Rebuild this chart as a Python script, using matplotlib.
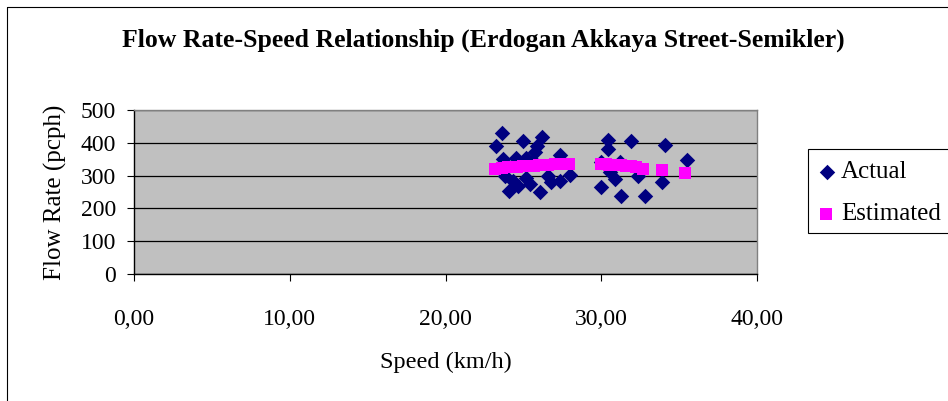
import matplotlib
matplotlib.use("Agg")
import matplotlib.pyplot as plt
from matplotlib.patches import Rectangle
from matplotlib.ticker import FuncFormatter

# Observed flow-speed pairs
actual_speed = [23.62, 23.26, 24.97, 26.19, 25.87, 25.72, 27.33, 23.69, 24.55, 25.20,
                23.80, 24.33, 25.20, 24.10, 24.65, 25.40, 26.05, 26.58, 26.80, 27.33,
                27.97, 25.00, 25.60,
                30.44, 31.88, 34.09, 30.44, 35.48, 30.01, 30.87, 30.55, 32.37, 33.93,
                31.24, 32.80, 29.98, 31.20]
actual_flow = [430, 391, 406, 417, 391, 371, 363, 350, 355, 355,
               299, 284, 294, 253, 268, 273, 250, 299, 279, 284,
               301, 340, 345,
               410, 405, 392, 380, 349, 264, 290, 310, 300, 282,
               239, 239, 340, 341]

# Model estimates
est_speed = [23.2, 23.6, 24.0, 24.3, 24.6, 25.0, 25.3, 25.7, 26.0, 26.3, 26.6, 27.0, 27.4, 27.9,
             30.0, 30.3, 30.5, 30.8, 31.0, 31.3, 31.6, 31.9, 32.2, 32.7, 33.9, 35.4]
est_flow = [321, 323, 325, 326, 327, 328, 329, 330, 331, 332, 333, 334, 335, 335,
            334, 334, 333, 333, 332, 331, 330, 329, 327, 321, 316, 309]

x_ticks = [0, 10, 20, 30, 40]
y_ticks = [0, 100, 200, 300, 400, 500]

W, H = 948, 401
plt.rcParams["font.family"] = ["Liberation Serif", "DejaVu Serif"]
fig = plt.figure(figsize=(W / 100, H / 100), dpi=100)
fig.patch.set_facecolor("white")

# overlay in pixel coordinates for the frame, title and legend
ov = fig.add_axes([0, 0, 1, 1], facecolor="none")
ov.set_xlim(0, W)
ov.set_ylim(H, 0)
ov.axis("off")
ov.add_patch(Rectangle((7, 7), W + 20, H + 20, fill=False, edgecolor="black", linewidth=0.8))

left, right, top, bottom = 134, 757, 110, 274
ax = fig.add_axes([left / W, 1 - bottom / H, (right - left) / W, (bottom - top) / H])
ax.set_facecolor("#C0C0C0")
ax.set_xlim(0, 40)
ax.set_ylim(0, 500)
ax.set_xticks(x_ticks)
ax.set_yticks(y_ticks)
ax.xaxis.set_major_formatter(FuncFormatter(lambda v, p: f"{v:.2f}".replace(".", ",")))
ax.yaxis.grid(True, color="black", linewidth=0.9)
ax.set_axisbelow(True)
for s in ["top", "right"]:
    ax.spines[s].set_color("#808080")
    ax.spines[s].set_linewidth(1.0)
for s in ["left", "bottom"]:
    ax.spines[s].set_color("black")
    ax.spines[s].set_linewidth(1.0)
ax.tick_params(axis="both", direction="out", length=5, width=0.8, labelsize=17)
ax.tick_params(axis="y", pad=8)
ax.tick_params(axis="x", pad=20)

ax.scatter(actual_speed, actual_flow, marker="D", s=62, color="#000080", linewidths=0,
           zorder=3)
ax.scatter(est_speed, est_flow, marker="s", s=82, color="#FF00FF", linewidths=0, zorder=4)

ax.set_xlabel("Speed (km/h)", fontsize=17.5, labelpad=16)
ax.set_ylabel("Flow Rate (pcph)", fontsize=18, labelpad=10)

ov.text(483, 40, "Flow Rate-Speed Relationship (Erdogan Akkaya Street-Semikler)",
        ha="center", va="center", fontsize=18.5, fontweight="bold")

# legend
ov.add_patch(Rectangle((808, 149), 200, 84, facecolor="white", edgecolor="black",
                       linewidth=0.8, zorder=2))
ov.scatter([827], [172], marker="D", s=62, color="#000080", linewidths=0, zorder=3)
ov.scatter([826], [214], marker="s", s=82, color="#FF00FF", linewidths=0, zorder=3)
ov.text(841, 172, "Actual", fontsize=18, va="center", ha="left", zorder=3)
ov.text(841, 214, "Estimated", fontsize=18, va="center", ha="left", zorder=3)

fig.savefig("out.png", dpi=100)
